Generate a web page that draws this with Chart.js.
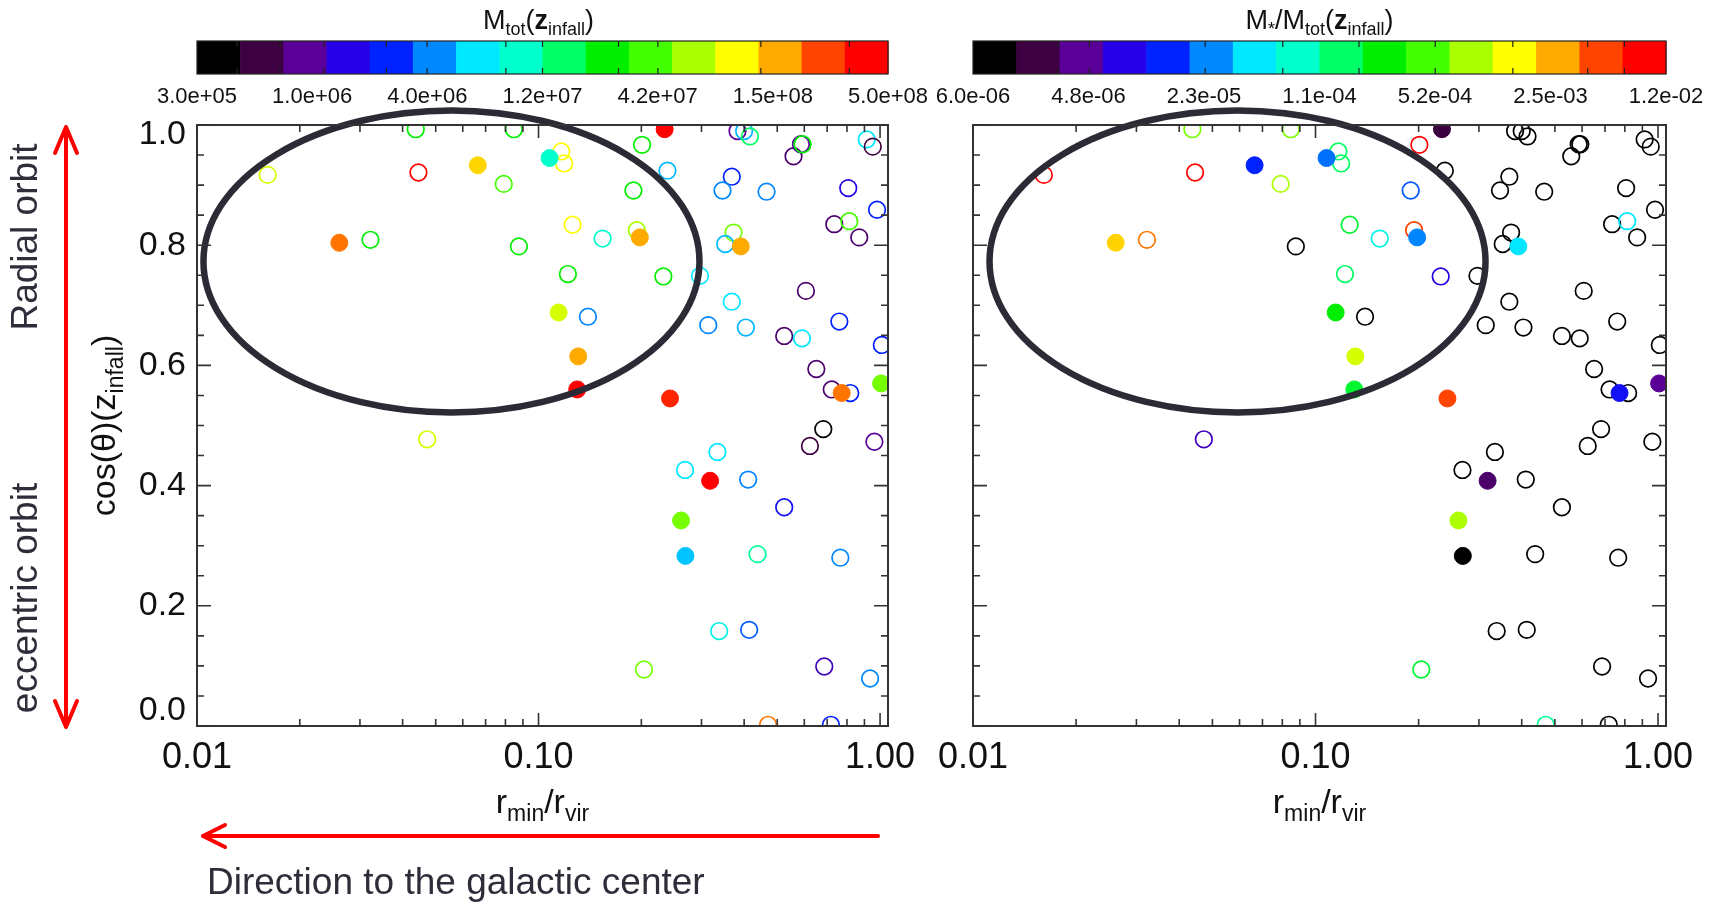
<!DOCTYPE html>
<html>
<head>
<meta charset="utf-8">
<script src="https://cdn.jsdelivr.net/npm/chart.js@4.4.1/dist/chart.umd.min.js"></script>
<style>
  html, body { margin: 0; padding: 0; background: #fff; }
  #wrap { position: relative; width: 1713px; height: 903px; }
  canvas { position: absolute; left: 0; top: 0; width: 1713px; height: 903px; }
</style>
</head>
<body>
<div id="wrap">
  <canvas id="massChart" width="1713" height="903"></canvas>
  <canvas id="ratioChart" width="1713" height="903"></canvas>
</div>
<script>
const FONT = '"Liberation Sans", Arial, Helvetica, sans-serif';

// one entry per satellite, same order in every array
const rMinOverRvir = [
  0.0437, 0.0847, 0.234, 0.201, 0.0161, 0.0445, 0.0664, 0.1077, 0.1166, 0.1188,
  0.0791, 0.2385, 0.1896, 0.0261, 0.0322, 0.0876, 0.1258, 0.154, 0.194, 0.198,
  0.1219, 0.232, 0.297, 0.1145, 0.1395, 0.314, 0.1307, 0.1298, 0.2427, 0.0472,
  0.3825, 0.400, 0.4158, 0.558, 0.5866, 0.593, 0.914, 0.952, 0.368, 0.3457,
  0.4652, 0.807, 0.98, 0.7345, 0.8128, 0.869, 0.3724, 0.352, 0.391, 0.6067,
  0.368, 0.4046, 0.76, 0.524, 0.5907, 1.012, 0.6507, 0.722, 0.818, 0.772,
  1.007, 0.682, 0.6233, 0.9624, 0.334, 0.2685, 0.318, 0.411, 0.524, 0.2614,
  0.2692, 0.4378, 0.765, 0.338, 0.4137, 0.2036, 0.6865, 0.935, 0.47, 0.718
];
const cosTheta = [
  0.993, 0.993, 0.993, 0.967, 0.917, 0.921, 0.933, 0.945, 0.956, 0.936,
  0.902, 0.924, 0.891, 0.804, 0.809, 0.798, 0.834, 0.811, 0.825, 0.813,
  0.752, 0.748, 0.749, 0.688, 0.681, 0.667, 0.615, 0.560, 0.545, 0.477,
  0.990, 0.990, 0.981, 0.948, 0.968, 0.968, 0.976, 0.964, 0.914, 0.891,
  0.889, 0.895, 0.859, 0.835, 0.840, 0.813, 0.821, 0.802, 0.798, 0.724,
  0.706, 0.663, 0.673, 0.649, 0.645, 0.634, 0.594, 0.560, 0.554, 0.554,
  0.570, 0.494, 0.466, 0.473, 0.456, 0.426, 0.408, 0.410, 0.364, 0.342,
  0.283, 0.286, 0.280, 0.158, 0.160, 0.094, 0.099, 0.079, 0.002, 0.002
];
// 1 = filled symbol, 0 = open symbol
const filled = [
  0, 0, 1, 0, 0, 0, 1, 1, 0, 0,
  0, 0, 0, 1, 0, 0, 0, 0, 0, 1,
  0, 0, 0, 1, 0, 0, 1, 1, 1, 0,
  0, 0, 0, 0, 0, 0, 0, 0, 0, 0,
  0, 0, 0, 0, 0, 0, 0, 0, 1, 0,
  0, 0, 0, 0, 0, 0, 0, 0, 0, 1,
  1, 0, 0, 0, 0, 0, 1, 0, 0, 1,
  1, 0, 0, 0, 0, 0, 0, 0, 0, 0
];
// M_tot at infall (left panel colour)
const mTot = [
  2.5e7, 2.5e7, 4.0e8, 2.5e7, 7.8e7, 4.0e8, 1.24e8, 9.7e6, 9.9e7, 9.9e7,
  3.9e7, 4.8e6, 2.5e7, 2.0e8, 2.5e7, 2.5e7, 9.9e7, 9.7e6, 6.2e7, 1.57e8,
  2.5e7, 2.5e7, 6.1e6, 7.8e7, 3.8e6, 3.8e6, 1.57e8, 4.0e8, 3.1e8, 7.8e7,
  9.6e5, 4.8e6, 1.55e7, 7.6e5, 9.6e5, 2.5e7, 6.1e6, 6.0e5, 2.4e6, 3.8e6,
  3.8e6, 1.5e6, 2.4e6, 7.6e5, 3.9e7, 7.6e5, 4.9e7, 4.8e6, 1.57e8, 7.6e5,
  6.1e6, 4.8e6, 2.4e6, 7.6e5, 6.1e6, 2.4e6, 7.6e5, 7.6e5, 2.4e6, 2.0e8,
  4.9e7, 3.8e5, 6.0e5, 9.6e5, 6.1e6, 6.1e6, 4.0e8, 3.8e6, 1.9e6, 4.9e7,
  5.1e6, 1.22e7, 3.8e6, 7.7e6, 3.1e6, 4.9e7, 1.2e6, 3.8e6, 2.0e8, 2.4e6
];
// M*/M_tot at infall (right panel colour)
const mStarOverMtot = [
  6.4e-4, 6.4e-4, 2.4e-6, 9.0e-3, 9.0e-3, 9.0e-3, 1.4e-5, 2.2e-5, 1.5e-4, 1.5e-4,
  8.6e-4, 1.0e-6, 1.9e-5, 2.1e-3, 3.7e-3, 1.0e-6, 2.0e-4, 6.1e-5, 5.0e-3, 2.5e-5,
  1.5e-4, 7.8e-6, 1.0e-6, 2.6e-4, 1.0e-6, 1.0e-6, 1.15e-3, 2.0e-4, 5.0e-3, 5.8e-6,
  1.0e-6, 1.0e-6, 1.0e-6, 1.0e-6, 1.0e-6, 1.0e-6, 1.0e-6, 1.0e-6, 1.0e-6, 1.0e-6,
  1.0e-6, 1.0e-6, 1.0e-6, 1.0e-6, 4.5e-5, 1.0e-6, 1.0e-6, 1.0e-6, 4.5e-5, 1.0e-6,
  1.0e-6, 1.0e-6, 1.0e-6, 1.0e-6, 1.0e-6, 1.0e-6, 1.0e-6, 1.0e-6, 1.0e-6, 1.05e-5,
  4.3e-6, 1.0e-6, 1.0e-6, 1.0e-6, 1.0e-6, 1.0e-6, 3.2e-6, 1.0e-6, 1.0e-6, 8.6e-4,
  1.0e-6, 1.0e-6, 1.0e-6, 1.0e-6, 1.0e-6, 2.0e-4, 1.0e-6, 1.0e-6, 1.1e-4, 1.0e-6
];

const xTicks = [0.01, 0.1, 1];
const yTicks = [0, 0.2, 0.4, 0.6, 0.8, 1.0];
const massBarLabels = ["3.0e+05", "1.0e+06", "4.0e+06", "1.2e+07", "4.2e+07", "1.5e+08", "5.0e+08"];
const ratioBarLabels = ["6.0e-06", "4.8e-06", "2.3e-05", "1.1e-04", "5.2e-04", "2.5e-03", "1.2e-02"];
const massRange = [3.0e5, 5.0e8];
const ratioRange = [1.0e-6, 1.2e-2];

// 16 level colour table of the bars
const palette = [
  "#000000", "#3d0040", "#5a0098", "#2600e6", "#0022ff", "#0088ff", "#00e8ff", "#00ffcc",
  "#00ff66", "#00ee00", "#44ff00", "#aaff00", "#ffff00", "#ffaa00", "#ff4400", "#ff0000"
];
const paletteRgb = palette.map(h => [1, 3, 5].map(k => parseInt(h.slice(k, k + 2), 16)));

function colourFor(v, range) {
  const lo = Math.log10(range[0]), hi = Math.log10(range[1]);
  const t = (Math.log10(v) - lo) / (hi - lo);
  const p = Math.min(Math.max(t * 16 - 0.5, 0), 15);
  const i = Math.floor(p), f = p - i, j = Math.min(i + 1, 15);
  const c = paletteRgb[i].map((a, k) => Math.round(a + (paletteRgb[j][k] - a) * f));
  return `rgb(${c[0]},${c[1]},${c[2]})`;
}

function buildDatasets(values, range) {
  const pts = rMinOverRvir.map((x, i) => ({ x: x, y: cosTheta[i], c: colourFor(values[i], range), f: filled[i] }));
  const solid = pts.filter(p => p.f);
  const open = pts.filter(p => !p.f);
  return [
    {
      label: "filled", data: solid, clip: 0,
      pointRadius: 8.5, pointBorderWidth: 1,
      pointBackgroundColor: solid.map(p => p.c), pointBorderColor: solid.map(p => p.c),
    },
    {
      label: "open", data: open, clip: 0,
      pointRadius: 8.3, pointBorderWidth: 1.7,
      pointBackgroundColor: "rgba(0,0,0,0)", pointBorderColor: open.map(p => p.c),
    },
  ];
}

// text with subscripts: parts of {t, s (sub), b (bold)}
function drawRich(ctx, parts, cx, baseY, size, color) {
  const sub = Math.round(size * 0.68);
  const fontOf = p => `${p.b ? "bold " : ""}${p.s ? sub : size}px ${FONT}`;
  let total = 0;
  parts.forEach(p => { ctx.font = fontOf(p); total += ctx.measureText(p.t).width; });
  let px = cx - total / 2;
  ctx.fillStyle = color || "#111";
  ctx.textAlign = "left";
  ctx.textBaseline = "alphabetic";
  parts.forEach(p => {
    ctx.font = fontOf(p);
    ctx.fillText(p.t, px, baseY + (p.s ? size * 0.24 : 0));
    px += ctx.measureText(p.t).width;
  });
}

const xTitle = [{ t: "r" }, { t: "min", s: 1 }, { t: "/r" }, { t: "vir", s: 1 }];
const yTitle = [{ t: "cos(\u03B8)(z" }, { t: "infall", s: 1 }, { t: ")" }];
const massTitle = [{ t: "M" }, { t: "tot", s: 1 }, { t: "(" }, { t: "z", b: 1 }, { t: "infall", s: 1 }, { t: ")" }];
const ratioTitle = [{ t: "M" }, { t: "*", s: 1 }, { t: "/M" }, { t: "tot", s: 1 }, { t: "(" }, { t: "z", b: 1 }, { t: "infall", s: 1 }, { t: ")" }];

function panelPlugin(cfg) {
  return {
    id: "panel_" + cfg.name,
    afterDatasetsDraw(chart) {
      const ctx = chart.ctx, a = chart.chartArea, x = chart.scales.x, y = chart.scales.y;
      ctx.save();

      // ellipse marking the region
      ctx.beginPath();
      ctx.ellipse(x.getPixelForValue(cfg.ellipse.x), y.getPixelForValue(cfg.ellipse.y),
        cfg.ellipse.rx, cfg.ellipse.ry, 0, 0, 2 * Math.PI);
      ctx.lineWidth = 6.5;
      ctx.strokeStyle = "#2b2b36";
      ctx.stroke();

      // box and inward ticks
      ctx.strokeStyle = "#333";
      ctx.lineWidth = 2;
      ctx.strokeRect(a.left, a.top, a.right - a.left, a.bottom - a.top);
      ctx.beginPath();
      for (let k = 0; k <= 20; k++) {
        const py = y.getPixelForValue(k / 20), len = k % 4 === 0 ? 14 : 7;
        ctx.moveTo(a.left, py); ctx.lineTo(a.left + len, py);
        ctx.moveTo(a.right, py); ctx.lineTo(a.right - len, py);
      }
      xTicks.forEach(d => {
        for (let m = 1; m <= 9; m++) {
          const v = d * m;
          if (v < x.min || v > x.max) continue;
          const px = x.getPixelForValue(v), len = m === 1 ? 13 : 7;
          ctx.moveTo(px, a.bottom); ctx.lineTo(px, a.bottom - len);
          ctx.moveTo(px, a.top); ctx.lineTo(px, a.top + len);
        }
      });
      ctx.lineWidth = 1.6;
      ctx.stroke();

      // y tick labels (end labels pulled inside like the original)
      if (cfg.yLabels) {
        ctx.font = `34px ${FONT}`;
        ctx.fillStyle = "#111";
        ctx.textAlign = "right";
        ctx.textBaseline = "middle";
        yTicks.forEach((v, i) => {
          const shift = i === 0 ? -15 : (i === yTicks.length - 1 ? 10 : 0);
          ctx.fillText(v.toFixed(1), a.left - 11, y.getPixelForValue(v) + shift);
        });
        ctx.save();
        ctx.translate(115, (a.top + a.bottom) / 2);
        ctx.rotate(-Math.PI / 2);
        drawRich(ctx, yTitle, 0, 0, 34);
        ctx.restore();
      }

      // x title
      drawRich(ctx, xTitle, (a.left + a.right) / 2, 813, 34);

      // colour bar
      const bx0 = a.left, bx1 = a.right, by0 = 41, by1 = 74, bw = bx1 - bx0;
      palette.forEach((c, i) => {
        ctx.fillStyle = c;
        ctx.fillRect(bx0 + i * bw / 16, by0, bw / 16 + 0.6, by1 - by0);
      });
      ctx.strokeStyle = "#222";
      ctx.lineWidth = 1.2;
      ctx.strokeRect(bx0, by0, bw, by1 - by0);
      ctx.beginPath();
      cfg.barTicks.forEach(f => {
        const px = bx0 + f * bw;
        ctx.moveTo(px, by0); ctx.lineTo(px, by0 + 6);
        ctx.moveTo(px, by1); ctx.lineTo(px, by1 - 6);
      });
      ctx.stroke();
      ctx.font = `22px ${FONT}`;
      ctx.fillStyle = "#111";
      ctx.textAlign = "center";
      ctx.textBaseline = "middle";
      cfg.barLabels.forEach((s, i) => ctx.fillText(s, bx0 + i * bw / (cfg.barLabels.length - 1), 97));
      drawRich(ctx, cfg.barTitle, (bx0 + bx1) / 2 + cfg.titleShift, 29, 27);

      if (cfg.extra) cfg.extra(ctx, a);
      ctx.restore();
    }
  };
}

function drawArrowLine(ctx, x0, y0, x1, y1) {
  ctx.moveTo(x0, y0); ctx.lineTo(x1, y1);
}

function leftExtras(ctx, a) {
  ctx.strokeStyle = "#ff0000";
  ctx.lineWidth = 4;
  ctx.lineCap = "round";
  ctx.beginPath();
  // vertical double arrow
  drawArrowLine(ctx, 66, 129, 66, 725);
  drawArrowLine(ctx, 66, 127, 55, 153); drawArrowLine(ctx, 66, 127, 77, 153);
  drawArrowLine(ctx, 66, 727, 55, 701); drawArrowLine(ctx, 66, 727, 77, 701);
  // horizontal arrow
  drawArrowLine(ctx, 878, 836, 205, 836);
  drawArrowLine(ctx, 203, 836, 225, 825); drawArrowLine(ctx, 203, 836, 225, 847);
  ctx.stroke();

  ctx.fillStyle = "#2e2e3a";
  ctx.font = `37px ${FONT}`;
  ctx.textAlign = "center";
  ctx.textBaseline = "alphabetic";
  [["Radial orbit", 237], ["eccentric orbit", 598]].forEach(([s, cy]) => {
    ctx.save();
    ctx.translate(37, cy);
    ctx.rotate(-Math.PI / 2);
    ctx.fillText(s, 0, 0);
    ctx.restore();
  });
  ctx.textAlign = "left";
  ctx.fillText("Direction to the galactic center", 207, 894);
}

function baseOptions(padding) {
  return {
    responsive: false,
    animation: false,
    events: [],
    layout: { padding: padding },
    plugins: { legend: { display: false }, tooltip: { enabled: false } },
    scales: {
      x: {
        type: "logarithmic", min: 0.01, max: 1.055, bounds: "data",
        grid: { display: false, drawTicks: false },
        border: { display: false },
        afterBuildTicks: s => { s.ticks = xTicks.map(v => ({ value: v })); },
        afterFit: s => { s.height = 60; },
        ticks: {
          autoSkip: false, maxRotation: 0, padding: 10, color: "#111",
          font: { family: FONT, size: 36 },
          callback: v => Number(v).toFixed(2),
        },
      },
      y: { type: "linear", min: 0, max: 1, display: false },
    },
  };
}

new Chart(document.getElementById("massChart"), {
  type: "scatter",
  data: { datasets: buildDatasets(mTot, massRange) },
  options: baseOptions({ left: 197, top: 125, right: 825, bottom: 117 }),
  plugins: [panelPlugin({
    name: "mass", yLabels: true, titleShift: -4,
    ellipse: { x: 0.0556, y: 0.773, rx: 248, ry: 151 },
    barLabels: massBarLabels, barTitle: massTitle,
    barTicks: [0.058, 0.12, 0.184, 0.274, 0.333, 0.447, 0.5, 0.61, 0.667, 0.816, 0.944],
    extra: leftExtras,
  })],
});

new Chart(document.getElementById("ratioChart"), {
  type: "scatter",
  data: { datasets: buildDatasets(mStarOverMtot, ratioRange) },
  options: baseOptions({ left: 973, top: 125, right: 47, bottom: 117 }),
  plugins: [panelPlugin({
    name: "ratio", yLabels: false, titleShift: 0,
    ellipse: { x: 0.0592, y: 0.773, rx: 248, ry: 151 },
    barLabels: ratioBarLabels, barTitle: ratioTitle,
    barTicks: [0.123, 0.168, 0.335, 0.447, 0.557, 0.667, 0.779, 0.887, 0.94],
  })],
});
</script>
</body>
</html>
